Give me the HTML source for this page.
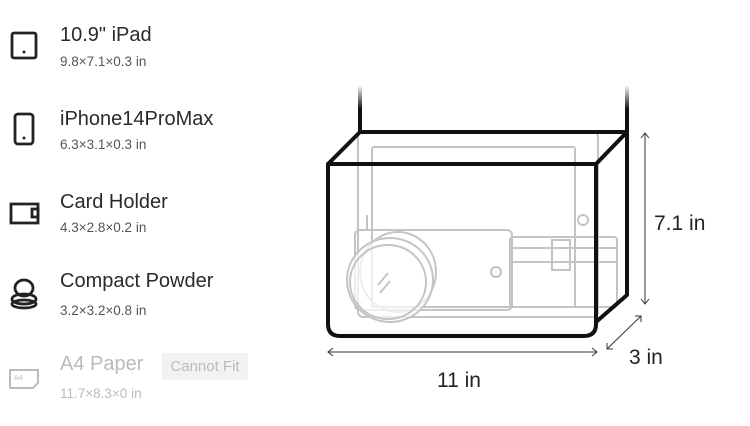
<!DOCTYPE html>
<html><head><style>
body{margin:0;width:750px;height:426px;background:#fff;font-family:"Liberation Sans",sans-serif;position:relative;overflow:hidden}
.t{position:absolute;left:60px;font-size:20px;color:#2a2a2a;white-space:nowrap}
.s{position:absolute;left:60px;font-size:13.5px;color:#555;white-space:nowrap}
.g{color:#bbb}
</style></head><body>
<div class="t" style="top:24px">10.9" iPad</div><div class="s" style="top:54px">9.8×7.1×0.3 in</div>
<div class="t" style="top:108px">iPhone14ProMax</div><div class="s" style="top:137px">6.3×3.1×0.3 in</div>
<div class="t" style="top:191px">Card Holder</div><div class="s" style="top:220px">4.3×2.8×0.2 in</div>
<div class="t" style="top:270px">Compact Powder</div><div class="s" style="top:303px">3.2×3.2×0.8 in</div>
<div class="t g" style="top:353px">A4 Paper</div><div class="s g" style="top:386px">11.7×8.3×0 in</div>
<div style="position:absolute;left:162px;top:353px;width:86px;height:27px;background:#f2f2f4;color:#bbb;font-size:15px;line-height:27px;text-align:center">Cannot Fit</div>
<svg width="750" height="426" style="position:absolute;left:0;top:0">
<defs><linearGradient id="fd" x1="0" y1="0" x2="0" y2="1"><stop offset="0" stop-color="#111" stop-opacity="0"/><stop offset="0.5" stop-color="#111"/></linearGradient></defs>
<g fill="none" stroke="#222" stroke-width="2.8">
<rect x="12" y="33" width="24" height="25" rx="2"/>
<rect x="15" y="114" width="18" height="30" rx="3"/>
<path d="M11 204h27v19H11z"/><rect x="32" y="209" width="6" height="8"/>
<ellipse cx="24" cy="288" rx="9" ry="8"/><ellipse cx="24" cy="299" rx="12" ry="5"/><ellipse cx="24" cy="304" rx="12" ry="4"/>
</g>
<circle cx="24" cy="52" r="1.5" fill="#222"/><circle cx="24" cy="138" r="1.5" fill="#222"/>
<g fill="none" stroke="#bbb" stroke-width="2"><path d="M10 370h28v13l-5 5H10z"/></g>
<text x="14" y="380" font-size="7" fill="#bbb" font-family="Liberation Sans">A4</text>
<g fill="none" stroke="#c4c4c4" stroke-width="2">
<rect x="358" y="132" width="240" height="185" rx="5"/>
<rect x="372" y="147" width="203" height="160" rx="2"/>
<circle cx="583" cy="220" r="5"/>
<rect x="510" y="237" width="107" height="70" rx="3"/>
<path d="M510 248h107M510 262h107"/>
<rect x="552" y="240" width="18" height="30"/>
<rect x="355" y="230" width="157" height="80" rx="5"/>
<circle cx="496" cy="272" r="5"/>
<ellipse cx="398" cy="272" rx="38" ry="40"/>
<ellipse cx="390" cy="280" rx="43" ry="42" fill="#fff" fill-opacity="0.7"/>
<ellipse cx="388" cy="282" rx="38" ry="37"/>
<path d="M378 285l10-12M380 293l10-12"/>
<path d="M367 215v15"/>
</g>
<path d="M598 132h28" stroke="#ccc" stroke-dasharray="2 2"/>
<rect x="358" y="85" width="4" height="48" fill="url(#fd)"/>
<rect x="625" y="85" width="4" height="48" fill="url(#fd)"/>
<g fill="none" stroke="#111" stroke-width="4" stroke-linejoin="round">
<path d="M328 164L360 132H627L596 164"/>
<path d="M627 132V295L596 322"/>
<path d="M328 164H596V324Q596 336 584 336H340Q328 336 328 324Z"/>
</g>
<g stroke="#333" stroke-width="1" fill="none">
<path d="M645 133V304M641 138l4-5 4 5M641 299l4 5 4-5"/>
<path d="M328 352H597M333 348l-5 4 5 4M592 348l5 4-5 4"/>
<path d="M607 349L641 316M607 343v6h6M635 316h6v6"/>
</g>
<g font-size="21" fill="#222" font-family="Liberation Sans">
<text x="654" y="230">7.1 in</text>
<text x="629" y="364">3 in</text>
<text x="437" y="387">11 in</text>
</g>
</svg>
</body></html>
